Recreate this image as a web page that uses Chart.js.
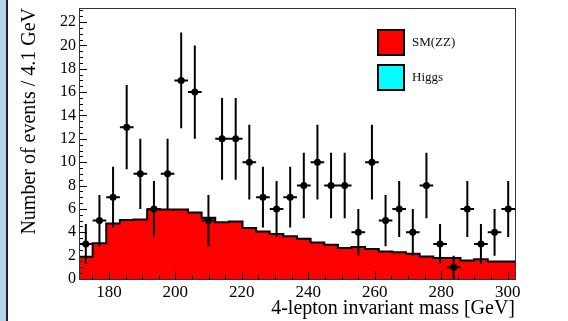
<!DOCTYPE html>
<html>
<head>
<meta charset="utf-8">
<script src="https://cdn.jsdelivr.net/npm/chart.js@4.4.0/dist/chart.umd.min.js"></script>
<style>
  html, body { margin: 0; padding: 0; background: #fff; }
  #wrap { position: relative; width: 568px; height: 321px; overflow: hidden; }
  #edge { position: absolute; left: 0; top: 0; width: 6px; height: 321px; background: #b9d1ea; border-right: 2px solid #222; }
</style>
</head>
<body>
<div id="wrap">
  <canvas id="massChart" width="568" height="321"></canvas>
  <div id="edge"></div>
</div>
<script>
// bin lower edges (4.1 GeV bins), last bin ends at 302.2
const binLow = [171.0, 175.1, 179.2, 183.3, 187.4, 191.5, 195.6, 199.7, 203.8, 207.9, 212.0, 216.1,
  220.2, 224.3, 228.4, 232.5, 236.6, 240.7, 244.8, 248.9, 253.0, 257.1, 261.2, 265.3,
  269.4, 273.5, 277.6, 281.7, 285.8, 289.9, 294.0, 298.1];
const binEnd = 302.2;

// SM(ZZ) expectation per bin
const smZZ = [1.28, 1.9, 3.05, 4.75, 5.05, 5.1, 5.95, 5.95, 5.95, 5.7, 5.25, 4.85,
  4.93, 4.36, 4.07, 3.85, 3.67, 3.44, 3.13, 2.93, 2.65, 2.75, 2.56, 2.36,
  2.3, 2.16, 1.93, 1.79, 1.79, 1.59, 1.7, 1.5];

// observed events and their error bars
const observed = [3, 5, 7, 13, 9, 6, 9, 17, 16, 5, 12, 12, 10, 7, 6, 7, 8, 10, 8, 8, 4, 10,
  5, 6, 4, 8, 3, 1, 6, 3, 4, 6];
const obsErr = [1.7, 2.2, 2.6, 3.6, 3.0, 2.4, 3.0, 4.1, 4.0, 2.2, 3.5, 3.5, 3.2, 2.6, 2.4, 2.6,
  2.8, 3.2, 2.8, 2.8, 2.0, 3.2, 2.2, 2.4, 2.0, 2.8, 1.7, 1.0, 2.4, 1.7, 2.0, 2.4];

const higgs = [];

const xTicks = [180, 200, 220, 240, 260, 280, 300];
const yTicks = [0, 2, 4, 6, 8, 10, 12, 14, 16, 18, 20, 22];

const edges = binLow.concat([binEnd]);
const histPoints = edges.map((x, i) => ({ x: x, y: smZZ[Math.min(i, smZZ.length - 1)] }));
const obsPoints = observed.map((v, i) => ({ x: (edges[i] + edges[i + 1]) / 2, y: v }));

const serif = "'Liberation Serif', 'Times New Roman', serif";

const errorBars = {
  id: "errorBars",
  afterDatasetsDraw(chart) {
    const ctx = chart.ctx;
    const xs = chart.scales.x, ys = chart.scales.y;
    ctx.save();
    ctx.strokeStyle = "#000";
    ctx.lineWidth = 2;
    obsPoints.forEach((p, i) => {
      const px = xs.getPixelForValue(p.x);
      const py = ys.getPixelForValue(p.y);
      ctx.beginPath();
      ctx.moveTo(px, ys.getPixelForValue(Math.max(0, p.y - obsErr[i])));
      ctx.lineTo(px, ys.getPixelForValue(p.y + obsErr[i]));
      ctx.moveTo(xs.getPixelForValue(edges[i]), py);
      ctx.lineTo(xs.getPixelForValue(edges[i + 1]), py);
      ctx.stroke();
    });
    ctx.restore();
  }
};

const rootFrame = {
  id: "rootFrame",
  afterDraw(chart) {
    const ctx = chart.ctx;
    const a = chart.chartArea;
    const xs = chart.scales.x, ys = chart.scales.y;
    ctx.save();
    ctx.strokeStyle = "#000";
    ctx.lineWidth = 1;
    ctx.beginPath();
    // minor + major ticks on y axis (inside the frame)
    for (let v = 0; v <= ys.max; v += 0.5) {
      const py = Math.round(ys.getPixelForValue(v)) + 0.5;
      const len = yTicks.includes(v) ? 8 : 4;
      ctx.moveTo(a.left, py);
      ctx.lineTo(a.left + len, py);
    }
    // ticks on x axis
    for (let v = 175; v <= xs.max; v += 5) {
      const px = Math.round(xs.getPixelForValue(v)) + 0.5;
      const len = xTicks.includes(v) ? 8 : 4;
      ctx.moveTo(px, a.bottom);
      ctx.lineTo(px, a.bottom - len);
    }
    ctx.stroke();
    ctx.strokeStyle = "#333";
    ctx.strokeRect(Math.round(a.left) + 0.5, Math.round(a.top) + 0.5,
      Math.round(a.right - a.left), Math.round(a.bottom - a.top));

    // legend
    const entries = [chart.data.datasets[1], chart.data.datasets[2]];
    entries.forEach((ds, i) => {
      const bx = 378, by = 30 + i * 35;
      ctx.fillStyle = ds.backgroundColor;
      ctx.fillRect(bx, by, 26, 25);
      ctx.lineWidth = 2;
      ctx.strokeStyle = "#000";
      ctx.strokeRect(bx, by, 26, 25);
      ctx.fillStyle = "#111";
      ctx.font = "13px " + serif;
      ctx.textBaseline = "middle";
      ctx.textAlign = "left";
      ctx.fillText(ds.label, 412, by + 13);
    });
    ctx.restore();
  }
};

const ctx = document.getElementById("massChart").getContext("2d");
new Chart(ctx, {
  type: "scatter",
  data: {
    datasets: [
      {
        label: "Data",
        data: obsPoints,
        pointRadius: 3.5,
        pointBackgroundColor: "#000",
        pointBorderColor: "#000",
        pointBorderWidth: 0,
        order: 0
      },
      {
        type: "line",
        label: "SM(ZZ)",
        data: histPoints,
        stepped: "after",
        fill: "origin",
        backgroundColor: "#ff0000",
        borderColor: "#000",
        borderWidth: 2,
        pointRadius: 0,
        order: 2
      },
      {
        type: "line",
        label: "Higgs",
        data: higgs,
        backgroundColor: "#00ffff",
        borderColor: "#000",
        pointRadius: 0,
        order: 1
      }
    ]
  },
  options: {
    responsive: false,
    animation: false,
    layout: { padding: { left: 0, top: 8, right: 53, bottom: 0 } },
    plugins: {
      legend: { display: false },
      tooltip: { enabled: false }
    },
    scales: {
      x: {
        type: "linear",
        min: 171.0,
        max: binEnd,
        grid: { display: false, drawTicks: false },
        border: { display: false },
        afterBuildTicks: s => { s.ticks = xTicks.map(v => ({ value: v })); },
        afterFit: s => { s.height = 42; s.paddingLeft = 0; s.paddingRight = 0; },
        ticks: { padding: 3, color: "#000", font: { family: serif, size: 17 }, maxRotation: 0 },
        title: {
          display: true,
          text: "4-lepton invariant mass [GeV]",
          align: "end",
          color: "#000",
          font: { family: serif, size: 20 },
          padding: { top: 0, bottom: 0 }
        }
      },
      y: {
        min: 0,
        max: 23.2,
        grid: { display: false, drawTicks: false },
        border: { display: false },
        afterBuildTicks: s => { s.ticks = yTicks.map(v => ({ value: v })); },
        afterFit: s => { s.width = 79; s.paddingTop = 0; s.paddingBottom = 0; },
        ticks: { padding: 3, color: "#000", font: { family: serif, size: 16 } },
        title: {
          display: true,
          text: "Number of events / 4.1 GeV",
          align: "end",
          color: "#000",
          font: { family: serif, size: 20 },
          padding: { top: 18, bottom: 0 }
        }
      }
    }
  },
  plugins: [errorBars, rootFrame]
});
</script>
</body>
</html>
